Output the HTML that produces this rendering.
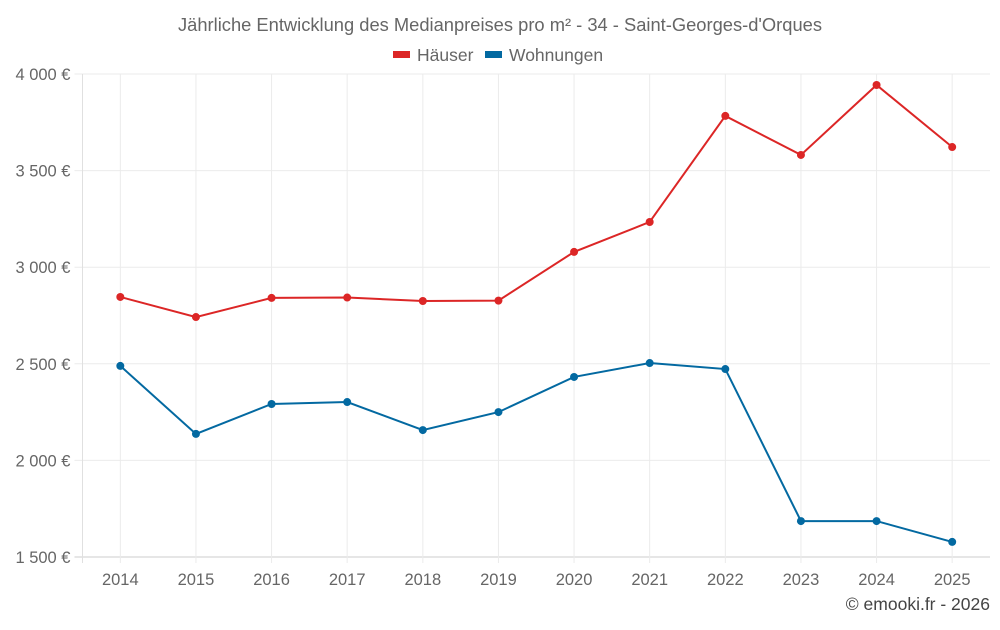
<!DOCTYPE html>
<html><head><meta charset="utf-8"><style>
body{margin:0;background:#fff;font-family:"Liberation Sans",sans-serif}
svg text{font-family:"Liberation Sans",sans-serif;fill:#666}
</style></head><body>
<svg id="c" width="1000" height="625" xmlns="http://www.w3.org/2000/svg">
<text x="500" y="31" text-anchor="middle" font-size="18" textLength="644" lengthAdjust="spacingAndGlyphs">Jährliche Entwicklung des Medianpreises pro m² - 34 - Saint-Georges-d'Orques</text>
<g><rect x="393" y="51" width="17" height="7" fill="#dc2626"/><text x="417" y="61" font-size="17.5">Häuser</text></g>
<g><rect x="485" y="51" width="17" height="7" fill="#0369a1"/><text x="509" y="61" font-size="17.5">Wohnungen</text></g>
<g id="grid"></g><g id="marks"></g>
<text x="990" y="610" text-anchor="end" font-size="17.5" style="fill:#444">© emooki.fr - 2026</text>
</svg>
<script>
const years=["2014","2015","2016","2017","2018","2019","2020","2021","2022","2023","2024","2025"];
const haeuser=[2846,2742,2841,2843,2825,2827,3079,3234,3783,3581,3943,3622];
const wohnungen=[2489,2137,2292,2302,2157,2250,2432,2504,2473,1686,1686,1578];
const yTicks=[1500,2000,2500,3000,3500,4000];
const yTickLabels=["1 500 €","2 000 €","2 500 €","3 000 €","3 500 €","4 000 €"];
const L=82.5,R=990,T=74,B=557,ymin=1500,ymax=4000;
const bw=(R-L)/years.length;
const x=i=>L+bw*(i+0.5);
const y=v=>B-(v-ymin)/(ymax-ymin)*(B-T);
const NS="http://www.w3.org/2000/svg";
const g=document.getElementById('grid'),m=document.getElementById('marks');
function mk(t,a,p){const e=document.createElementNS(NS,t);for(const k in a)e.setAttribute(k,a[k]);p.appendChild(e);return e;}
yTicks.forEach((v,i)=>{
 const l=mk('line',{x1:L-8,x2:R,y1:y(v),y2:y(v),stroke:i==0?'#ccc':'#ebebeb'},g);
 
 
 const t=mk('text',{x:L-12,y:y(v)+6,'text-anchor':'end','font-size':'16.5'},g);t.textContent=yTickLabels[i];
 
 
});
mk('line',{x1:L,x2:L,y1:T,y2:B+6,stroke:'#e0e0e0'},g);
years.forEach((yr,i)=>{
 const l=mk('line',{x1:x(i),x2:x(i),y1:T,y2:B+6,stroke:'#ebebeb'},g);
 
 
 const t=mk('text',{x:x(i),y:585,'text-anchor':'middle','font-size':'16.5'},g);t.textContent=yr;
 
 
});
function series(vals,col,name){
 const p=mk('polyline',{points:vals.map((v,i)=>x(i)+','+y(v)).join(' '),fill:'none',stroke:col,'stroke-width':2},m);
 
 
 vals.forEach((v,i)=>{const c=mk('circle',{cx:x(i),cy:y(v),r:4,fill:col},m);
  
  });
}
series(haeuser,'#dc2626','haeuser');
series(wohnungen,'#0369a1','wohnungen');
</script>
</body></html>
